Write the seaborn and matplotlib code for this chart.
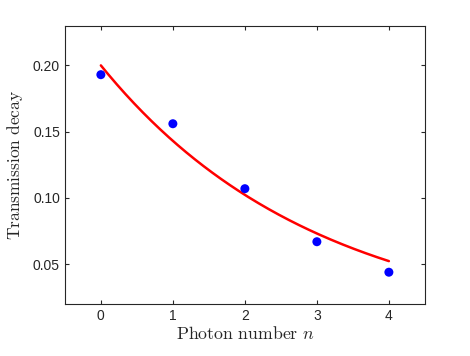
import numpy as np
import pandas as pd
import matplotlib
matplotlib.use("Agg")
import matplotlib.pyplot as plt
import seaborn as sns

# Data
photon_number = [0, 1, 2, 3, 4]
transmission_decay = [0.193, 0.156, 0.107, 0.067, 0.044]
# exponential fit parameters
fit_amplitude = 0.200
fit_rate = 0.335
xticks = [0, 1, 2, 3, 4]
yticks = [0.05, 0.10, 0.15, 0.20]

sns.set_theme(style="white")
plt.rcParams['font.family'] = ['Liberation Sans', 'DejaVu Sans']
plt.rcParams['mathtext.fontset'] = 'cm'

fig = plt.figure(figsize=(4.7, 3.56), dpi=100)
ax = fig.add_axes([0.138, 0.146, 0.766, 0.782])

df_pts = pd.DataFrame({"n": photon_number, "decay": transmission_decay})
n_fit = np.linspace(photon_number[0], photon_number[-1], 200)
df_fit = pd.DataFrame({"n": n_fit, "decay": fit_amplitude * np.exp(-fit_rate * n_fit)})

sns.scatterplot(data=df_pts, x="n", y="decay", ax=ax, color="#0000ff", s=42,
                edgecolor="none", zorder=3)
sns.lineplot(data=df_fit, x="n", y="decay", ax=ax, color="#ff0000", linewidth=1.8,
             zorder=2)

ax.set_xlim(-0.5, 4.5)
ax.set_ylim(0.02, 0.23)
ax.set_xticks(xticks)
ax.set_xticklabels([str(t) for t in xticks])
ax.set_yticks(yticks)
ax.set_yticklabels([f"{t:.2f}" for t in yticks])

for s in ax.spines.values():
    s.set_visible(True)
    s.set_color("#262626")
    s.set_linewidth(0.8)
ax.tick_params(direction="in", length=3, width=0.8, color="#262626",
               labelsize=10, labelcolor="#262626",
               top=True, right=True, bottom=True, left=True)

ax.set_xlabel(r"$\mathrm{Photon\ number}\ n$", fontsize=12.8, color="#262626", labelpad=2)
ax.set_ylabel(r"$\mathrm{Transmission\ decay}$", fontsize=12.5, color="#262626", labelpad=6)

fig.savefig("out.png", dpi=100)
